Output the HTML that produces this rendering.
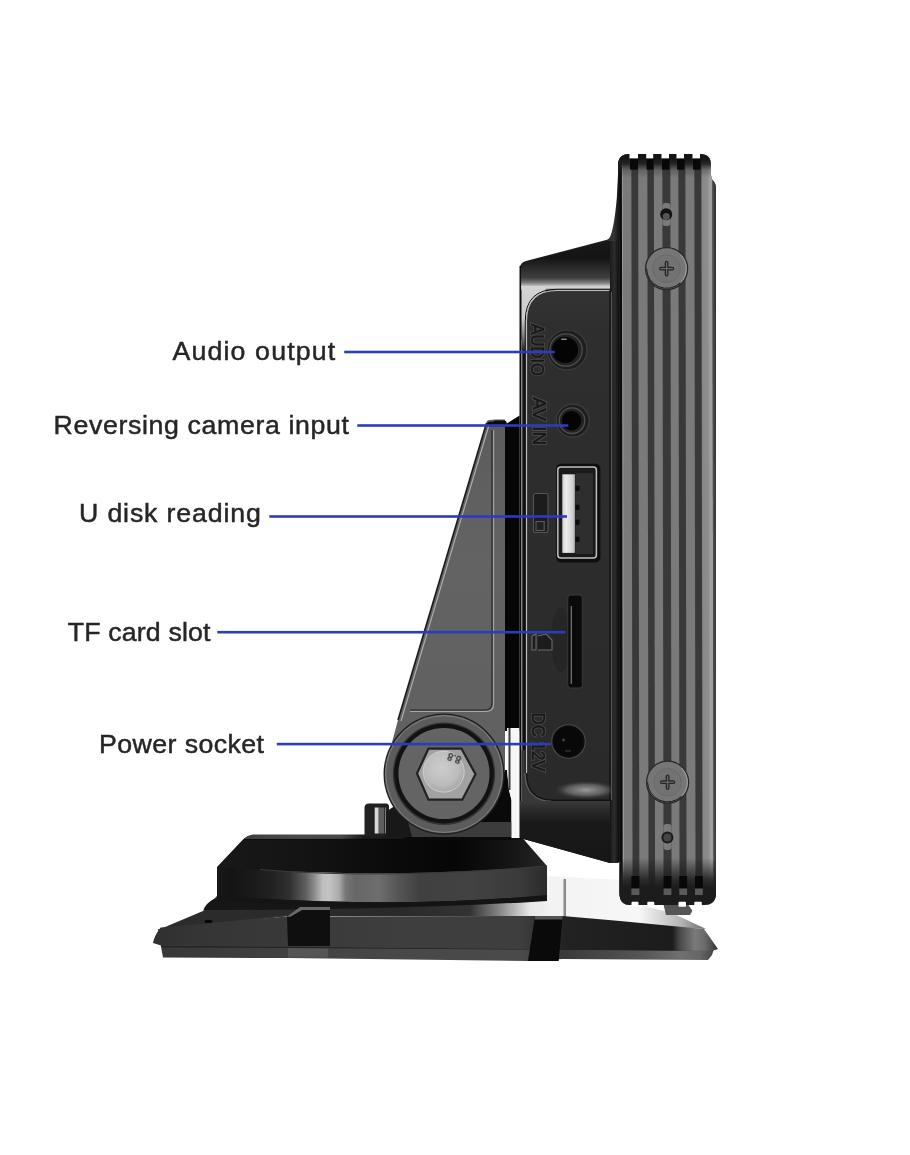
<!DOCTYPE html>
<html><head><meta charset="utf-8"><title>Side ports</title>
<style>
html,body{margin:0;padding:0;background:#fff;}
body{width:910px;height:1155px;overflow:hidden;}
svg{display:block;}
.lbl{font-family:"Liberation Sans",sans-serif;font-weight:normal;font-size:25px;fill:#262626;stroke:#262626;stroke-width:0.45px;}
.emb{font-family:"Liberation Sans",sans-serif;font-size:18.5px;font-weight:normal;fill:#191919;stroke:#191919;stroke-width:0.6px;}
.embh{font-family:"Liberation Sans",sans-serif;font-size:18.5px;font-weight:normal;fill:#4e4e4e;stroke:#4e4e4e;stroke-width:2.2px;}
</style></head>
<body>
<svg width="910" height="1155" viewBox="0 0 910 1155">
<defs>
  <linearGradient id="gArm" x1="0" y1="0" x2="0" y2="1">
    <stop offset="0" stop-color="#5c5c5c"/><stop offset="0.4" stop-color="#636363"/><stop offset="1" stop-color="#606060"/>
  </linearGradient>
  <linearGradient id="gPlateTop" x1="0" y1="0" x2="1" y2="0">
    <stop offset="0" stop-color="#f2f2f2"/><stop offset="0.6" stop-color="#f7f7f7"/><stop offset="0.85" stop-color="#b5b5b5"/><stop offset="1" stop-color="#6a6a6a"/>
  </linearGradient>
  <linearGradient id="gPlateFront" gradientUnits="userSpaceOnUse" x1="153" y1="0" x2="718" y2="0">
    <stop offset="0" stop-color="#303030"/><stop offset="0.083" stop-color="#353535"/><stop offset="0.437" stop-color="#3e3e3e"/><stop offset="0.65" stop-color="#3e3e3e"/><stop offset="0.73" stop-color="#222"/><stop offset="0.79" stop-color="#202020"/><stop offset="0.919" stop-color="#1c1c1c"/><stop offset="0.933" stop-color="#4a4a4a"/><stop offset="0.959" stop-color="#7a7a7a"/><stop offset="0.977" stop-color="#6a6a6a"/><stop offset="1" stop-color="#333"/>
  </linearGradient>
  <linearGradient id="gLip" gradientUnits="userSpaceOnUse" x1="161" y1="0" x2="714" y2="0">
    <stop offset="0" stop-color="#383838"/><stop offset="0.43" stop-color="#484848"/><stop offset="0.65" stop-color="#4a4a4a"/><stop offset="0.73" stop-color="#3a3a3a"/><stop offset="0.87" stop-color="#555"/><stop offset="0.94" stop-color="#707070"/><stop offset="0.975" stop-color="#666"/><stop offset="1" stop-color="#444"/>
  </linearGradient>
  <linearGradient id="gBand" gradientUnits="userSpaceOnUse" x1="217" y1="0" x2="547" y2="0">
    <stop offset="0" stop-color="#191919"/><stop offset="0.04" stop-color="#131313"/><stop offset="0.16" stop-color="#202020"/><stop offset="0.22" stop-color="#303030"/>
    <stop offset="0.27" stop-color="#606060"/><stop offset="0.295" stop-color="#8c8c8c"/><stop offset="0.32" stop-color="#bebebe"/><stop offset="0.34" stop-color="#c4c4c4"/>
    <stop offset="0.37" stop-color="#aaa"/><stop offset="0.39" stop-color="#767676"/><stop offset="0.42" stop-color="#666"/><stop offset="0.49" stop-color="#6e6e6e"/>
    <stop offset="0.55" stop-color="#555"/><stop offset="0.615" stop-color="#404040"/><stop offset="0.77" stop-color="#424242"/><stop offset="0.92" stop-color="#3a3a3a"/><stop offset="1" stop-color="#2a2a2a"/>
  </linearGradient>
  <linearGradient id="gPed" gradientUnits="userSpaceOnUse" x1="217" y1="0" x2="547" y2="0">
    <stop offset="0" stop-color="#181818"/><stop offset="0.25" stop-color="#141414"/><stop offset="0.55" stop-color="#0a0a0a"/><stop offset="0.73" stop-color="#060606"/><stop offset="0.89" stop-color="#151515"/><stop offset="1" stop-color="#262626"/>
  </linearGradient>
  <linearGradient id="gPanel" x1="0" y1="0" x2="0" y2="1">
    <stop offset="0" stop-color="#333"/><stop offset="0.08" stop-color="#2e2e2e"/><stop offset="0.6" stop-color="#2c2c2c"/><stop offset="1" stop-color="#2a2a2a"/>
  </linearGradient>
  <linearGradient id="gHouse" x1="0" y1="0" x2="0" y2="1">
    <stop offset="0" stop-color="#222"/><stop offset="0.1" stop-color="#141414"/><stop offset="1" stop-color="#0c0c0c"/>
  </linearGradient>
  <linearGradient id="gHouseTop" gradientUnits="userSpaceOnUse" x1="0" y1="240" x2="0" y2="291">
    <stop offset="0" stop-color="#181818"/><stop offset="0.353" stop-color="#141414"/><stop offset="0.549" stop-color="#2a2a2a"/><stop offset="0.745" stop-color="#404040"/><stop offset="0.843" stop-color="#808080"/><stop offset="0.912" stop-color="#cfcfcf"/><stop offset="0.941" stop-color="#d4d4d4"/><stop offset="1" stop-color="#2a2a2a"/>
  </linearGradient>
  <linearGradient id="gHL" x1="0" y1="0" x2="0" y2="1">
    <stop offset="0" stop-color="#1a1a1a"/><stop offset="0.5" stop-color="#555"/><stop offset="1" stop-color="#c8c8c8"/>
  </linearGradient>
  <linearGradient id="gHwhite" gradientUnits="userSpaceOnUse" x1="520" y1="0" x2="610" y2="0">
    <stop offset="0" stop-color="#e6e6e6"/><stop offset="0.35" stop-color="#a0a0a0"/><stop offset="0.7" stop-color="#6a6a6a"/><stop offset="1" stop-color="#555"/>
  </linearGradient>
  <linearGradient id="gVmask" gradientUnits="userSpaceOnUse" x1="0" y1="262" x2="0" y2="291">
    <stop offset="0" stop-color="#000"/><stop offset="0.45" stop-color="#000"/><stop offset="0.85" stop-color="#fff"/><stop offset="1" stop-color="#fff"/>
  </linearGradient>
  <mask id="mTopHL" maskUnits="userSpaceOnUse" x="500" y="250" width="120" height="50">
    <rect x="500" y="250" width="120" height="50" fill="url(#gVmask)"/>
  </mask>
  <linearGradient id="gUnder" gradientUnits="userSpaceOnUse" x1="0" y1="801" x2="0" y2="862">
    <stop offset="0" stop-color="#3a3a3a"/><stop offset="0.15" stop-color="#2a2a2a"/><stop offset="0.35" stop-color="#1a1a1a"/><stop offset="1" stop-color="#161616"/>
  </linearGradient>
  <linearGradient id="gRStrip" x1="0" y1="0" x2="1" y2="0">
    <stop offset="0" stop-color="#1e1e1e"/><stop offset="0.5" stop-color="#2c2c2c"/><stop offset="1" stop-color="#121212"/>
  </linearGradient>
  <linearGradient id="gTongue" x1="0" y1="0" x2="1" y2="0">
    <stop offset="0" stop-color="#cfcfcf"/><stop offset="0.3" stop-color="#ececec"/><stop offset="0.8" stop-color="#d0d0d0"/><stop offset="1" stop-color="#9a9a9a"/>
  </linearGradient>
  <linearGradient id="gRStripe" x1="0" y1="0" x2="1" y2="0">
    <stop offset="0" stop-color="#868686"/><stop offset="0.6" stop-color="#8e8e8e"/><stop offset="0.75" stop-color="#a2a2a2"/><stop offset="1" stop-color="#9a9a9a"/>
  </linearGradient>
  <linearGradient id="gTop" gradientUnits="userSpaceOnUse" x1="0" y1="150" x2="0" y2="178">
    <stop offset="0" stop-color="#151515"/><stop offset="0.3" stop-color="#151515"/><stop offset="0.5" stop-color="#1e1e1e" stop-opacity="0.92"/><stop offset="0.72" stop-color="#2a2a2a" stop-opacity="0.3"/><stop offset="1" stop-color="#2a2a2a" stop-opacity="0"/>
  </linearGradient>
  <linearGradient id="gBot" gradientUnits="userSpaceOnUse" x1="0" y1="858" x2="0" y2="905">
    <stop offset="0" stop-color="#1a1a1a" stop-opacity="0"/><stop offset="0.45" stop-color="#1e1e1e" stop-opacity="0.85"/><stop offset="0.62" stop-color="#1c1c1c"/><stop offset="1" stop-color="#1c1c1c"/>
  </linearGradient>
  <linearGradient id="gPost" x1="0" y1="0" x2="1" y2="0">
    <stop offset="0" stop-color="#333"/><stop offset="0.5" stop-color="#9a9a9a"/><stop offset="1" stop-color="#2a2a2a"/>
  </linearGradient>
  <clipPath id="cDisp">
    <path d="M618,166 Q618,154 629,154 L700,154 Q711,154 711,165 L711,175 Q711,179 713.5,181 Q716,183.5 716,189 L716,893 Q716,905 704,905 L630,905 Q619.5,905 619.5,893 L619.5,300 L619.5,240 L619,190 Z"/>
  </clipPath>
  <radialGradient id="gBolt" cx="0.45" cy="0.4" r="0.6">
    <stop offset="0" stop-color="#cdcdcd"/><stop offset="0.7" stop-color="#bcbcbc"/><stop offset="1" stop-color="#a8a8a8"/>
  </radialGradient>
  <linearGradient id="gCornerHL" x1="0" y1="0" x2="0" y2="1">
    <stop offset="0" stop-color="#d4d4d4"/><stop offset="0.5" stop-color="#cccccc"/><stop offset="0.75" stop-color="#888"/><stop offset="1" stop-color="#2a2a2a"/>
  </linearGradient>
  <linearGradient id="gPlateTopL" gradientUnits="userSpaceOnUse" x1="158" y1="0" x2="548" y2="0">
    <stop offset="0" stop-color="#2c2c2c"/><stop offset="0.62" stop-color="#2a2a2a"/><stop offset="0.8" stop-color="#333"/><stop offset="0.877" stop-color="#888"/><stop offset="0.954" stop-color="#e8e8e8"/><stop offset="1" stop-color="#f0f0f0"/>
  </linearGradient>
  <filter id="gs" x="-5%" y="-20%" width="110%" height="140%" color-interpolation-filters="sRGB"><feColorMatrix type="saturate" values="0"/></filter>
  <linearGradient id="gREdge" x1="0" y1="0" x2="1" y2="0">
    <stop offset="0" stop-color="#505050"/><stop offset="1" stop-color="#2a2a2a"/>
  </linearGradient>
  <radialGradient id="gRefl">
    <stop offset="0" stop-color="#a8a8a8" stop-opacity="0.9"/><stop offset="0.6" stop-color="#808080" stop-opacity="0.6"/><stop offset="1" stop-color="#444" stop-opacity="0"/>
  </radialGradient>
  <linearGradient id="gWedge" gradientUnits="userSpaceOnUse" x1="606" y1="0" x2="621" y2="0">
    <stop offset="0" stop-color="#2a2a2a"/><stop offset="0.5" stop-color="#363636"/><stop offset="0.8" stop-color="#1a1a1a"/><stop offset="1" stop-color="#0c0c0c"/>
  </linearGradient>
  <linearGradient id="gRim" gradientUnits="userSpaceOnUse" x1="243" y1="0" x2="523" y2="0">
    <stop offset="0" stop-color="#3e3e3e"/><stop offset="0.2" stop-color="#4a4a4a"/><stop offset="0.35" stop-color="#484848"/><stop offset="0.43" stop-color="#1c1c1c"/><stop offset="1" stop-color="#1c1c1c"/>
  </linearGradient>
</defs>
<rect width="910" height="1155" fill="#fff"/>

<!-- ===== BASE PLATE ===== -->
<g id="base">
  <!-- light top surface right of pedestal -->
  <path d="M546,876 L622,880 L640,905 L672,913 L706,929 L562,921 L540,916 Z" fill="url(#gPlateTop)"/>
  <path d="M563.5,879 L566,879 L566,920 L563.5,920 Z" fill="#8a8a8a"/>
  <path d="M662.8,901.7 L686.3,901.7 L692.4,910.8 L690,915 L666,915 Z" fill="#555"/>
  <!-- plate top surface left (dark) -->
  <path d="M158,930 L203,911 L210,903 L218,895 L548,895 L548,916 L287,916 Z" fill="url(#gPlateTopL)"/>
  <path d="M158,930 L287,915.5" stroke="#333" stroke-width="1.5"/>
  <path d="M203.4,910 Q206,903 214,899 L547,899 L547,901 Q400,910 210,910 Z" fill="#161616"/>
  <ellipse cx="208.5" cy="921.4" rx="4" ry="1.6" fill="#050505"/>
  <!-- lower lip -->
  <path d="M160.7,945 L714,949 L712,955 L708,960 L563,959 L528,961 L288,958 L163,957.6 Z" fill="url(#gLip)"/>
  <rect x="288" y="946" width="40" height="11.5" fill="#555"/>
  <path d="M161,946.5 L712,950" stroke="#222" stroke-width="1.4"/>
  <!-- plate front face -->
  <path d="M153,943 Q154,936 160.7,927.5 L287,916.4 L535,916 L562.6,916 L620,921 L672,926 L704,929 L718,949 L712,951 L161,945.5 Z" fill="url(#gPlateFront)"/>
  <path d="M287,916.4 L300,907 L330,907 L330,946 L288,946 Z" fill="#0f0f0f"/>
  <path d="M287,916.4 L300,907 L330,907 L330,910 L302,910 L290,917 Z" fill="#6a6a6a"/>
  <!-- right notch -->
  <path d="M535,916 L562.6,916 L558.7,961 L528,961 Z" fill="#0a0a0a"/>
  <path d="M535,916 L562.6,916 L562.3,919.5 L534.7,919.5 Z" fill="#555"/>
</g>

<!-- ===== PEDESTAL ===== -->
<g id="ped">
  <path d="M243,839.5 Q246,836 253,836 L515,835.5 Q522,836 526,842 L547,866 L547,897 Q400,908 217,897 L217,867 Z" fill="url(#gPed)"/>
  <path d="M243.5,839.5 Q246,835.5 253,834.5 L515,834.5 Q520,835 523,838.5 Z" fill="url(#gRim)"/>
  <path d="M244,839.5 L523,839" stroke="#0a0a0a" stroke-width="1.2"/>
  <path d="M217,867 Q380,880 547,866 L547,895 Q400,909 217,896 Z" fill="url(#gBand)"/>
  <path d="M217,896 Q400,909 547,895 L547,899 Q400,913 217,900 Z" fill="#141414"/>
  <path d="M260,869.5 Q380,880 547,866" fill="none" stroke="#3a3a3a" stroke-width="1"/>
  <!-- post -->
  <path d="M364.5,836 L364.5,808 Q364.5,803.5 369,803.5 L386,803.5 Q389,803.5 389,807 L389,836 Z" fill="#202020"/>
  <rect x="374.7" y="807.5" width="4" height="26" fill="#d8d8d8"/>
  <rect x="378.7" y="807.5" width="5.5" height="26" fill="#5e5e5e"/>
  <rect x="385" y="807.5" width="0.9" height="26" fill="#8a8a8a"/>
</g>

<!-- ===== ARM ===== -->
<g id="arm">
  <!-- dark column behind arm right -->
  <path d="M500,426 L506,424 L519.6,415.5 L519.6,731 L500,731 Z" fill="#060606"/>
  <!-- neck under hinge -->
  <path d="M480,770 L507,770 L509,790 L511.5,800 L511.5,840 L404,840 L406,826 L480,826 Z" fill="#0a0a0a"/>
  <path d="M407,822 L512,822 L514,837 L407,837 Z" fill="#3c3c3c"/>
  <path d="M386,837 L386,812 Q393,806 403,803 L412,837 Z" fill="#181818"/>
  <!-- arm plate -->
  <path d="M487,421 Q489,419.5 495,419.5 L505,419.5 L505,772 L384,772 L398,720 Z" fill="url(#gArm)"/>
  <path d="M485.8,427 Q486.5,421.8 490,421.8 L493,421.8 Q494,420.6 496.5,420.6 L504,420.6 Q506.8,420.6 506.8,423.5 L506.8,426.5 L485.5,426.5 Z" fill="#0c0c0c"/>
  <!-- arm outer edge highlight -->
  <path d="M486.5,423 L398,720" stroke="#1a1a1a" stroke-width="1.6"/>
  <path d="M489,425 L401,721" stroke="#b0b0b0" stroke-width="1.1"/>
  <!-- recess outline -->
  <path d="M493.6,430 L493.6,704 Q493.6,711.5 486,711.5 L410,711.5" fill="none" stroke="#a8a8a8" stroke-width="1.1"/>
  <path d="M492,430 L492,703 Q492,710 485,710 L410,710" fill="none" stroke="#2a2a2a" stroke-width="1.2"/>
  <!-- hinge -->
  <circle cx="444" cy="774" r="60.5" fill="#1e1e1e"/>
  <circle cx="444" cy="774" r="59.2" fill="#5c5c5c"/>
  <circle cx="444" cy="774" r="58.4" fill="none" stroke="#8a8a8a" stroke-width="0.8"/>
  <circle cx="444" cy="773.7" r="51.2" fill="#333"/>
  <circle cx="444" cy="773.6" r="49.8" fill="#121212"/>
  <circle cx="444" cy="773.5" r="45.6" fill="#646464"/>
  <!-- bolt -->
  <polygon points="417,773.4 428.5,748.6 461.5,748.6 475.5,774.2 462.3,799.7 428.5,799.7" fill="#a2a2a2" stroke="#222" stroke-width="2.2"/>
  <circle cx="443.7" cy="771.6" r="20.5" fill="url(#gBolt)" stroke="#d8d8d8" stroke-width="0.8"/>
  <text filter="url(#gs)" x="0" y="0" transform="translate(462,757) rotate(200)" font-family="Liberation Sans" font-size="10" font-weight="bold" fill="#3a3a3a">8.8</text>
</g>

<!-- ===== HOUSING (port side) ===== -->
<g id="housing">
  <path d="M520,268 Q520,262.5 526,261 L606,240 Q609,239 612,239 L620,239 L620,862 L610,863 L520,838 Z" fill="url(#gHouse)"/>
  <!-- top face shading -->
  <path d="M521,268 Q521,263 526,262 L606,241 L610,241 L610,290 L521,290 Z" fill="url(#gHouseTop)"/>
  <!-- left highlight strip -->
  <!-- white gap -->
  <path d="M507,728 L519.5,728 L519.5,838 L511.5,838 L511.5,800 L509,790 L507,770 Z" fill="#f6f6f6"/>
  <path d="M508.5,728 L510.5,728 L510.5,790 L508.5,790 Z" fill="#3a3a3a"/>
  <line x1="520.3" y1="266" x2="520.3" y2="836" stroke="#0e0e0e" stroke-width="1.6"/>
  <line x1="521.8" y1="340" x2="521.8" y2="836" stroke="#a8a8a8" stroke-width="1.1"/>
  <rect x="521.5" y="286" width="24" height="64" fill="url(#gCornerHL)"/>
  <rect x="521.5" y="750" width="30" height="52" fill="#383838"/>
  <!-- inner panel -->
  <path d="M526.5,321 Q526.5,290.5 557,290.5 L610,290.5 L610,800 L553,800 Q526.5,800 526.5,773 Z" fill="url(#gPanel)"/>
  <path d="M525.3,773 L525.3,321 Q525.3,289.3 557,289.3 L610,289.3" fill="none" stroke="#111" stroke-width="1"/>
  <path d="M526.5,773 L526.5,321 Q526.5,290.5 557,290.5 L610,290.5" fill="none" stroke="#c0c0c0" stroke-width="1.2"/>
  <path d="M610,290 L610,800 L553,800 Q526.5,800 526.5,773" fill="none" stroke="#111" stroke-width="1.2"/>
  <path d="M610,801.5 L553,801.5 Q525,801.5 525,773" fill="none" stroke="#6a6a6a" stroke-width="0.9"/>
  <ellipse cx="586" cy="790" rx="32" ry="9" fill="url(#gRefl)"/>
  <!-- under-panel dark -->
  <path d="M520,801 L610,801 L610,863 L520,838 Z" fill="url(#gUnder)"/>
  <!-- right strip -->
  <rect x="610.5" y="240" width="8" height="623" fill="url(#gRStrip)"/>
  <line x1="611.5" y1="292" x2="611.5" y2="800" stroke="#5a5a5a" stroke-width="1"/>
  <!-- audio -->
  <circle cx="567" cy="350" r="20" fill="#1e1e1e" stroke="#3e3e3e" stroke-width="1.2"/>
  <circle cx="566" cy="350" r="16.2" fill="#222" stroke="#4e4e4e" stroke-width="1.3"/>
  <circle cx="565" cy="350" r="13" fill="#040404"/>
  <rect x="561" y="338.5" width="6" height="1.6" rx="0.8" fill="#8a8a8a"/>
  <!-- av in -->
  <circle cx="572.7" cy="420.7" r="16.5" fill="#1e1e1e" stroke="#3e3e3e" stroke-width="1.2"/>
  <circle cx="572" cy="420.7" r="12.8" fill="#222" stroke="#4e4e4e" stroke-width="1.3"/>
  <circle cx="571.5" cy="420.7" r="9.7" fill="#040404"/>
  <!-- usb -->
  <rect x="556.1" y="463.8" width="44.3" height="98.6" rx="5" fill="#0e0e0e"/>
  <rect x="557.8" y="467" width="38.6" height="91" rx="3" fill="#1a1a1a" stroke="#c0c0c0" stroke-width="1.5"/>
  <rect x="576" y="473" width="17" height="81" fill="#2e2e2e"/>
  <rect x="562.3" y="474.3" width="12.8" height="78.6" fill="url(#gTongue)"/>
  <g fill="#0c0c0c">
    <rect x="575.3" y="485.5" width="4.3" height="5.5" rx="1.5"/>
    <rect x="575.3" y="504.5" width="4.3" height="5.5" rx="1.5"/>
    <rect x="575.3" y="519.5" width="4.3" height="5.5" rx="1.5"/>
    <rect x="575.3" y="536.5" width="4.3" height="5.5" rx="1.5"/>
  </g>
  <!-- usb icon -->
  <rect x="533.5" y="493.5" width="14.5" height="39" rx="2" fill="#1c1c1c" stroke="#555" stroke-width="1.1"/>
  <rect x="536" y="521.5" width="8.2" height="9" fill="#222" stroke="#5a5a5a" stroke-width="1.1"/>
  <line x1="534" y1="517" x2="548" y2="517" stroke="#111" stroke-width="1.5"/>
  <!-- tf shadow + slot -->
  <ellipse cx="561" cy="640" rx="10" ry="32" fill="#1e1e1e" opacity="0.45"/>
  <rect x="567.8" y="595" width="14.5" height="93" rx="3" fill="#0a0a0a" stroke="#3a3a3a" stroke-width="1"/>
  <rect x="570.6" y="606" width="1.4" height="78" fill="#6a6a6a"/>
  <!-- tf icon -->
  <path d="M532,636 L536,634 L536,650 L532,650 Z M538,650 L552,650 L552,640 L546,634 L538,636" fill="#1c1c1c" stroke="#6a6a6a" stroke-width="1.1"/>
  <!-- dc -->
  <circle cx="568.5" cy="741.5" r="16.8" fill="#0c0c0c" stroke="#4a4a4a" stroke-width="1.1"/>
  <circle cx="568" cy="741.5" r="14" fill="#080808"/>
  <circle cx="563.5" cy="740" r="1.4" fill="#444"/>
  <path d="M565,751 L571,751" stroke="#3a3a3a" stroke-width="1.2"/>
  <!-- embossed labels -->
  <g filter="url(#gs)">
    <g class="embh">
      <text transform="translate(531,323.5) rotate(90)" textLength="52.5" lengthAdjust="spacingAndGlyphs">AUDIO</text>
      <text transform="translate(532.5,397) rotate(90)" textLength="48.3" lengthAdjust="spacingAndGlyphs">AV IN</text>
      <text transform="translate(532,712.5) rotate(90)" textLength="59" lengthAdjust="spacingAndGlyphs">DC 12V</text>
    </g>
    <g class="emb">
      <text transform="translate(531,323.5) rotate(90)" textLength="52.5" lengthAdjust="spacingAndGlyphs">AUDIO</text>
      <text transform="translate(532.5,397) rotate(90)" textLength="48.3" lengthAdjust="spacingAndGlyphs">AV IN</text>
      <text transform="translate(532,712.5) rotate(90)" textLength="59" lengthAdjust="spacingAndGlyphs">DC 12V</text>
    </g>
  </g>
</g>

<!-- ===== DISPLAY BODY ===== -->
<g id="display">
  <!-- wedge joining housing -->
  <path d="M618.5,164 L616.8,198 Q614.5,224 611,234.5 Q609.5,239.5 605,241 L621,241 L621,164 Z" fill="url(#gWedge)"/>
  <g clip-path="url(#cDisp)">
    <rect x="610" y="150" width="110" height="760" fill="#393939"/>
    <rect x="610" y="150" width="12" height="760" fill="#0c0c0c"/>
    <g transform="translate(-0.4167,0) skewX(0.0955)">
    <rect x="622" y="150" width="1.8" height="760" fill="#9a9a9a"/>
    <g fill="#7a7a7a">
      <rect x="623" y="150" width="8.5" height="760"/>
      <rect x="638.3" y="150" width="9.2" height="760"/>
      <rect x="654" y="150" width="8.5" height="760"/>
      <rect x="670.5" y="150" width="8" height="760"/>
      <rect x="685.5" y="150" width="9" height="760"/>
    </g>
    <rect x="701.5" y="150" width="11" height="760" fill="url(#gRStripe)"/>
    <rect x="712.5" y="150" width="4" height="760" fill="url(#gREdge)"/>
    <!-- center groove interruptions (light) -->
    <rect x="662.5" y="203" width="8" height="23" rx="3" fill="#7a7a7a"/>
    <rect x="662.5" y="824" width="8" height="26" rx="3" fill="#7a7a7a"/>
    </g>
    <!-- top dark shading -->
    <rect x="610" y="150" width="110" height="28" fill="url(#gTop)"/>
    <!-- bottom dark shading -->
    <rect x="610" y="858" width="110" height="52" fill="url(#gBot)"/>
  </g>
  <!-- top notches (white cut) -->
  <g fill="#fff">
    <rect x="629.5" y="152" width="8.5" height="6.6"/>
    <rect x="646.2" y="152" width="7" height="6.6"/>
    <rect x="661.5" y="152" width="7.5" height="6.6"/>
    <rect x="676.5" y="152" width="7.5" height="6.6"/>
    <rect x="692.5" y="152" width="7.5" height="6.6"/>
  </g>
  <g fill="#080808">
    <rect x="630" y="158.6" width="8" height="11"/>
    <rect x="646.5" y="158.6" width="7" height="11"/>
    <rect x="662" y="158.6" width="7.5" height="11"/>
    <rect x="677" y="158.6" width="7.5" height="11"/>
    <rect x="693" y="158.6" width="7.5" height="11"/>
  </g>
  <!-- bottom notches -->
  <g fill="#fff">
    <rect x="631.5" y="901.7" width="7" height="5" rx="1"/>
    <rect x="647.3" y="901.7" width="7" height="5" rx="1"/>
    <rect x="678.5" y="901.7" width="7.5" height="5" rx="1"/>
    <rect x="694.3" y="901.7" width="7.5" height="5" rx="1"/>
  </g>
  <g fill="#080808">
    <rect x="631.4" y="876" width="8" height="12"/>
    <rect x="663.6" y="876" width="7.8" height="12"/>
    <rect x="679.3" y="876" width="7.8" height="12"/>
    <rect x="695" y="876" width="7.8" height="12"/>
  </g>
  <g fill="#5a5a5a">
    <rect x="631.4" y="888.6" width="8" height="6.4"/>
    <rect x="663.6" y="888.6" width="7.8" height="6.4"/>
    <rect x="679.3" y="888.6" width="7.8" height="6.4"/>
    <rect x="695" y="888.6" width="7.8" height="6.4"/>
  </g>
  <!-- holes -->
  <circle cx="666.2" cy="214.2" r="6" fill="#111"/>
  <circle cx="666.2" cy="216.5" r="3.5" fill="#555"/>
  <circle cx="667.4" cy="837.4" r="6" fill="#1a1a1a"/>
  <circle cx="667.4" cy="837.4" r="4" fill="#444"/>
  <!-- screws -->
  <g>
    <circle cx="666.6" cy="268.6" r="21" fill="#767676" stroke="#2a2a2a" stroke-width="1.3"/>
    <path d="M646.6,268.6 A20,20 0 0 0 680.6,282.6" fill="none" stroke="#1e1e1e" stroke-width="1"/>
    <path d="M680.6,254.60000000000002 A20,20 0 0 1 680.6,282.6" fill="none" stroke="#a5a5a5" stroke-width="1"/>
    <circle cx="666.6" cy="268.6" r="13.8" fill="#727272" stroke="#6a6a6a" stroke-width="1"/>
    <rect x="659.0" y="266.70000000000005" width="15.2" height="3.8" rx="1.9" fill="#262626"/>
    <rect x="664.7" y="260.8" width="3.8" height="15.6" rx="1.9" fill="#262626"/>
    <rect x="660.3000000000001" y="268.0" width="12.6" height="1.2" fill="#6a6a6a"/>
    <rect x="666.0" y="262.1" width="1.2" height="13" fill="#6a6a6a"/>
    <circle cx="667.6" cy="782.2" r="21" fill="#767676" stroke="#2a2a2a" stroke-width="1.3"/>
    <path d="M647.6,782.2 A20,20 0 0 0 681.6,796.2" fill="none" stroke="#1e1e1e" stroke-width="1"/>
    <path d="M681.6,768.2 A20,20 0 0 1 681.6,796.2" fill="none" stroke="#a5a5a5" stroke-width="1"/>
    <circle cx="667.6" cy="782.2" r="13.8" fill="#727272" stroke="#6a6a6a" stroke-width="1"/>
    <rect x="660.0" y="780.3000000000001" width="15.2" height="3.8" rx="1.9" fill="#262626"/>
    <rect x="665.7" y="774.4000000000001" width="3.8" height="15.6" rx="1.9" fill="#262626"/>
    <rect x="661.3000000000001" y="781.6" width="12.6" height="1.2" fill="#6a6a6a"/>
    <rect x="667.0" y="775.7" width="1.2" height="13" fill="#6a6a6a"/>
  </g>

</g>

<!-- ===== LABELS ===== -->
<g id="labels">
  <g filter="url(#gs)">
  <g transform="translate(172.4,359.7) scale(1.07,1)"><text class="lbl" x="0" y="0" textLength="152.2" lengthAdjust="spacing">Audio output</text></g>
  <g transform="translate(53.6,434) scale(1.07,1)"><text class="lbl" x="0" y="0" textLength="276.1" lengthAdjust="spacing">Reversing camera input</text></g>
  <g transform="translate(79,522.3) scale(1.07,1)"><text class="lbl" x="0" y="0" textLength="169.9" lengthAdjust="spacing">U disk reading</text></g>
  <g transform="translate(67.8,640.7) scale(1.07,1)"><text class="lbl" x="0" y="0" textLength="133.3" lengthAdjust="spacing">TF card slot</text></g>
  <g transform="translate(99,752.5) scale(1.07,1)"><text class="lbl" x="0" y="0" textLength="154.2" lengthAdjust="spacing">Power socket</text></g>
  </g>
  <g fill="#2c3bc0">
    <rect x="344.2" y="350.7" width="210.6" height="2.6"/>
    <rect x="357.3" y="424.2" width="211" height="2.6"/>
    <rect x="269.3" y="515.2" width="297.7" height="2.6"/>
    <rect x="217.3" y="630.9" width="348" height="2.6"/>
    <rect x="276.8" y="742.8" width="274" height="2.6"/>
  </g>
</g>
</svg>
</body></html>
